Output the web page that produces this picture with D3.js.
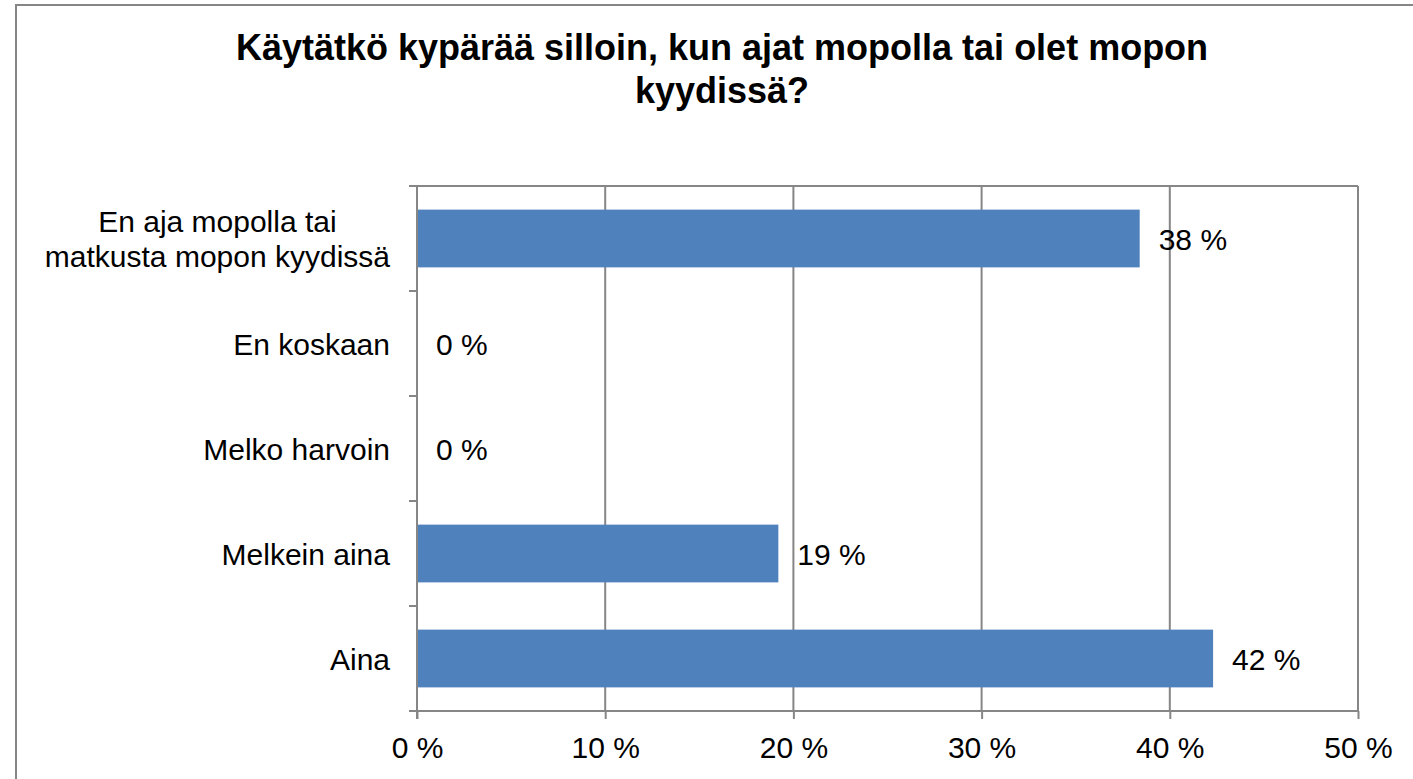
<!DOCTYPE html>
<html>
<head>
<meta charset="utf-8">
<script src="https://cdn.jsdelivr.net/npm/d3@7"></script>
<style>
  html, body { margin: 0; padding: 0; background: #fff; }
  svg { display: block; }
  text { font-family: "Liberation Sans", Arial, sans-serif; fill: #000; }
</style>
</head>
<body>
<svg id="chart" width="1413" height="779"></svg>
<script>
const titleLines = ["Käytätkö kypärää silloin, kun ajat mopolla tai olet mopon", "kyydissä?"];
const categories = [
  ["En aja mopolla tai", "matkusta mopon kyydissä"],
  ["En koskaan"],
  ["Melko harvoin"],
  ["Melkein aina"],
  ["Aina"]
];
const values = [38.4, 0, 0, 19.2, 42.3];
const xTicks = [0, 10, 20, 30, 40, 50];

const svg = d3.select("#chart");
const W = 1413, H = 779;
const plot = { left: 417, right: 1358, top: 186, bottom: 711 };
const grey = "#868686";
const fs = "30px";

// outer chart border
svg.append("rect")
  .attr("x", 16).attr("y", 5)
  .attr("width", W + 20).attr("height", H + 20)
  .attr("fill", "#fff").attr("stroke", grey).attr("stroke-width", 2);

// title
const title = svg.append("text")
  .attr("text-anchor", "middle")
  .style("font-weight", "bold").style("font-size", "36px");
titleLines.forEach((t, i) => {
  title.append("tspan").attr("x", 722).attr("y", 60 + i * 43).text(t);
});

const x = d3.scaleLinear().domain([0, 50]).range([plot.left, plot.right]);
const y = d3.scaleBand().domain(d3.range(categories.length))
  .range([plot.top, plot.bottom]).paddingInner(0.45).paddingOuter(0.225);
const yBand = d3.scaleBand().domain(d3.range(categories.length))
  .range([plot.top, plot.bottom]);

// vertical gridlines
svg.append("g").selectAll("line").data(xTicks).join("line")
  .attr("x1", d => x(d)).attr("x2", d => x(d))
  .attr("y1", plot.top).attr("y2", plot.bottom)
  .attr("stroke", grey).attr("stroke-width", 2);

// top border line of plot
svg.append("line")
  .attr("x1", plot.left - 8).attr("x2", plot.right)
  .attr("y1", plot.top).attr("y2", plot.top)
  .attr("stroke", grey).attr("stroke-width", 2);

// bars
svg.append("g").selectAll("rect").data(values).join("rect")
  .attr("x", x(0))
  .attr("y", (d, i) => y(i))
  .attr("width", d => x(d) - x(0))
  .attr("height", y.bandwidth())
  .attr("fill", "#4F81BD");

// x axis
const xAxis = d3.axisBottom(x).tickValues(xTicks)
  .tickFormat(d => d + " %").tickSize(8).tickSizeOuter(0).tickPadding(18);
const gx = svg.append("g").attr("transform", `translate(0,${plot.bottom})`).call(xAxis);
gx.select(".domain").attr("stroke", grey).attr("stroke-width", 2)
  .attr("d", `M${plot.left - 8},0H${plot.right}`);
gx.selectAll(".tick line").attr("stroke", grey).attr("stroke-width", 2);
gx.selectAll(".tick text").style("font-size", fs)
  .style("font-family", "'Liberation Sans', Arial, sans-serif").attr("fill", "#000");

// y axis ticks (band boundaries)
const boundaries = d3.range(categories.length + 1).map(i => plot.top + i * yBand.step());
svg.append("line")
  .attr("x1", plot.left).attr("x2", plot.left)
  .attr("y1", plot.top).attr("y2", plot.bottom + 8)
  .attr("stroke", grey).attr("stroke-width", 2);
svg.append("g").selectAll("line").data(boundaries).join("line")
  .attr("x1", plot.left - 8).attr("x2", plot.left)
  .attr("y1", d => d).attr("y2", d => d)
  .attr("stroke", grey).attr("stroke-width", 2);

// category labels
const catG = svg.append("g");
const labelRight = plot.left - 27;
categories.forEach((lines, i) => {
  const cy = yBand(i) + yBand.bandwidth() / 2;
  const lh = 35;
  const t = catG.append("text").style("font-size", fs);
  const spans = lines.map((ln, j) =>
    t.append("tspan")
      .attr("y", cy + 11 + (j - (lines.length - 1) / 2) * lh).text(ln));
  if (lines.length === 1) {
    t.attr("text-anchor", "end");
    spans.forEach(s => s.attr("x", labelRight));
  } else {
    const maxW = d3.max(spans, s => s.node().getComputedTextLength());
    t.attr("text-anchor", "middle");
    spans.forEach(s => s.attr("x", labelRight - maxW / 2));
  }
});

// data labels
svg.append("g").selectAll("text").data(values).join("text")
  .attr("x", d => x(d) + 19)
  .attr("y", (d, i) => yBand(i) + yBand.bandwidth() / 2 + 11)
  .style("font-size", fs)
  .text(d => Math.round(d) + " %");
</script>
</body>
</html>
